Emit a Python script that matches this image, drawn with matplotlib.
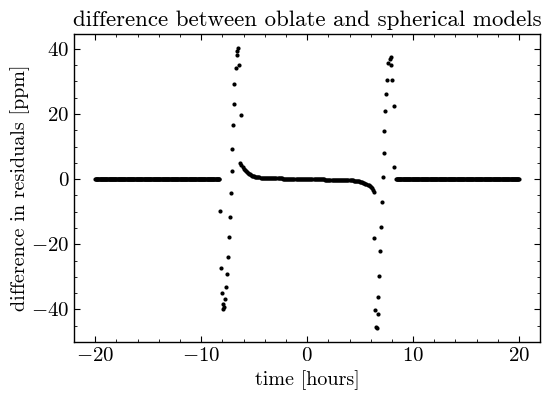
import numpy as np
import matplotlib
matplotlib.use("Agg")
import matplotlib.pyplot as plt
from matplotlib.ticker import AutoMinorLocator

plt.rcParams['font.family'] = 'serif'
plt.rcParams['font.serif'] = ['cmr10']
plt.rcParams['mathtext.fontset'] = 'cm'
plt.rcParams['axes.formatter.use_mathtext'] = True

# flat parts outside the transit (value 0)
t_out_left = np.round(np.arange(-20.0, -8.29, 0.05), 2)
t_out_right = np.round(np.arange(8.4, 20.01, 0.05), 2)

# smooth part inside the transit, sampled every 0.1 h
t_mid = np.round(np.arange(-6.3, 6.31, 0.1), 2)
v_mid_neg = [5.0, 4.2, 3.6, 3.1, 2.7, 2.4, 2.1, 1.9, 1.7, 1.5,
             1.3, 1.1, 0.95, 0.88, 0.8, 0.72, 0.65, 0.6, 0.55, 0.5,
             0.46, 0.43, 0.4, 0.38, 0.36, 0.34, 0.33, 0.32, 0.31, 0.3,
             0.29, 0.28, 0.27, 0.26, 0.25, 0.24, 0.23, 0.22, 0.21, 0.2,
             0.19, 0.18, 0.16, 0.15, 0.14, 0.13, 0.12, 0.11, 0.1, 0.09,
             0.08, 0.07, 0.06, 0.05, 0.045, 0.04, 0.035, 0.03, 0.025, 0.02,
             0.015, 0.01, 0.005]
v_mid_pos = [-0.005, -0.01, -0.015, -0.02, -0.025, -0.03, -0.035, -0.04, -0.045, -0.05,
             -0.06, -0.07, -0.08, -0.09, -0.1, -0.11, -0.12, -0.13, -0.14, -0.15,
             -0.16, -0.17, -0.18, -0.19, -0.2, -0.21, -0.22, -0.23, -0.24, -0.25,
             -0.26, -0.27, -0.28, -0.29, -0.3, -0.31, -0.32, -0.33, -0.34, -0.35,
             -0.37, -0.39, -0.41, -0.44, -0.48, -0.52, -0.57, -0.63, -0.7, -0.78,
             -0.87, -0.97, -1.08, -1.2, -1.35, -1.52, -1.72, -1.95, -2.2, -2.5,
             -2.85, -3.3, -4.0]
v_mid = v_mid_neg + [0.0] + v_mid_pos

# ingress spike
t_ing = [-6.54, -6.58, -6.67, -6.42, -6.75, -6.89, -6.92, -6.29, -6.98, -7.05,
         -7.14, -7.23, -8.24, -7.33, -7.42, -7.52, -8.18, -7.61, -7.64, -8.08,
         -7.73, -7.95, -7.83, -7.9]
v_ing = [40.3, 39.5, 38.0, 35.2, 34.2, 29.2, 23.0, 19.6, 16.5, 9.4,
         2.4, -4.4, -9.9, -11.5, -17.9, -23.9, -27.2, -29.0, -33.0, -34.9,
         -36.8, -38.5, -39.2, -39.8]

# egress spike
t_egr = [7.89, 7.80, 7.67, 7.92, 7.58, 8.05, 7.48, 8.18, 7.39, 7.3,
         7.25, 8.24, 7.2, 7.1, 7.01, 6.35, 6.92, 6.82, 6.73, 6.45,
         6.64, 6.52, 6.55]
v_egr = [37.4, 36.8, 35.8, 34.9, 30.4, 30.4, 26.2, 22.4, 20.8, 14.8,
         7.9, 3.6, 0.8, -6.9, -14.6, -18.2, -22.2, -29.6, -36.1, -40.2,
         -41.5, -45.5, -45.8]

time = np.concatenate([t_out_left, t_ing, t_mid, t_egr, t_out_right])
diff = np.concatenate([np.zeros(len(t_out_left)), v_ing, v_mid, v_egr,
                       np.zeros(len(t_out_right))])

fig = plt.figure(figsize=(5.49, 3.99), dpi=100)
ax = fig.add_axes([0.135, 0.143, 0.849, 0.772])
ax.scatter(time, diff, s=9, color='black', linewidths=0)

ax.set_xlim(-22, 22)
ax.set_ylim(-50, 44.6)
ax.set_xticks([-20, -10, 0, 10, 20])
ax.set_yticks([-40, -20, 0, 20, 40])
ax.xaxis.set_minor_locator(AutoMinorLocator(5))
ax.yaxis.set_minor_locator(AutoMinorLocator(4))
ax.tick_params(which='both', direction='in', top=True, right=True, labelsize=15)
ax.tick_params(which='major', length=4.5, width=0.8)
ax.tick_params(which='minor', length=2.3, width=0.6)
for s in ax.spines.values():
    s.set_linewidth(1.0)

ax.set_xlabel("time [hours]", fontsize=14.5)
ax.set_ylabel("difference in residuals [ppm]", fontsize=14.5, labelpad=1)
ax.set_title("difference between oblate and spherical models", fontsize=16.5)

fig.savefig("out.png", dpi=100)
